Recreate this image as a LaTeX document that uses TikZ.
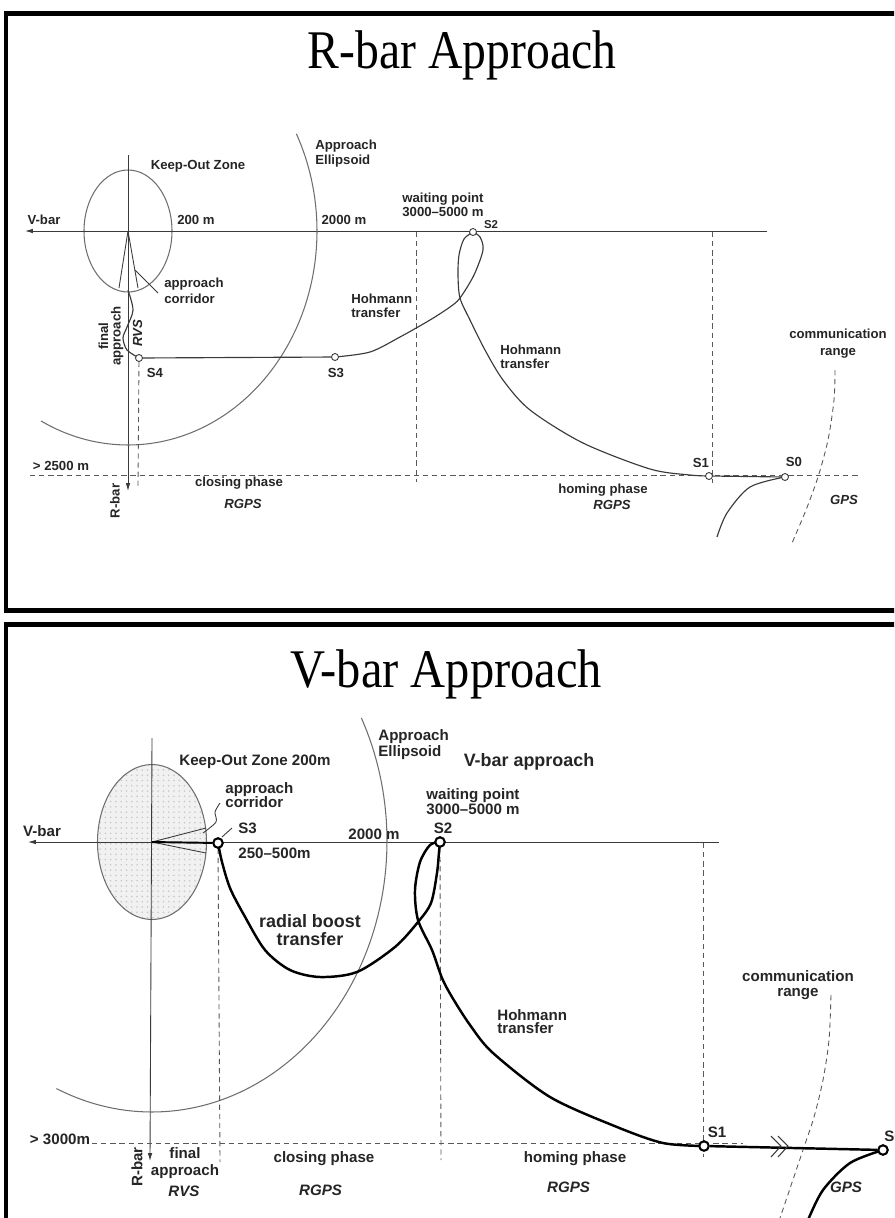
\documentclass[tikz,border=0pt]{standalone}
\usepackage{fontspec}
\usepackage{graphicx}
\setsansfont{Liberation Sans}
\newfontfamily\titlefont{Liberation Serif}
\usetikzlibrary{arrows.meta,patterns}
\definecolor{ink}{HTML}{252525}
\definecolor{lineg}{HTML}{3A3A3A}
\definecolor{ellg}{HTML}{6E6E6E}
\definecolor{kozfill}{HTML}{F1F1F1}
\pgfdeclarelayer{bg}
\pgfsetlayers{bg,main}
\begin{document}
\begin{tikzpicture}[x=0.02cm,y=-0.02cm,
  frame/.style={draw=black,line width=2.3pt},
  axisline/.style={draw=lineg,line width=0.5pt},
  axisarrow/.style={axisline,-{Latex[length=4.5pt,width=2.6pt]}},
  ellipsoid/.style={draw=ellg,line width=0.6pt},
  guide/.style={draw=lineg!85,line width=0.5pt,dash pattern=on 3pt off 2.2pt},
  trajA/.style={draw=lineg,line width=0.65pt},
  trajB/.style={draw=black,line width=1.4pt},
  ptA/.style={circle,draw=lineg,fill=white,line width=0.5pt,minimum size=0.14cm,inner sep=0},
  ptB/.style={circle,draw=black,fill=white,line width=1.2pt,minimum size=0.19cm,inner sep=0},
  lblA/.style={font=\sffamily\bfseries\fontsize{7.5}{8.3}\selectfont,text=ink,inner sep=0},
  lblB/.style={font=\sffamily\bfseries\fontsize{8.6}{9.4}\selectfont,text=ink,inner sep=0},
  lblC/.style={font=\sffamily\bfseries\fontsize{10.2}{10}\selectfont,text=ink,inner sep=0},
  titletext/.style={font=\titlefont\fontsize{31}{31}\selectfont,anchor=base,inner sep=0}]
\useasboundingbox (0,0) rectangle (894,1218);
\clip (0,0) rectangle (894,1218);

% ---------------- R-bar panel: stations and labels ----------------
\node[titletext] (titleR) at (462,68) {\scalebox{0.875}[1]{R-bar Approach}};
\node[ptA] (S4) at (139,358) {};
\node[ptA] (S3) at (335,357) {};
\node[ptA] (S2) at (473,232) {};
\node[ptA] (S1) at (709,476) {};
\node[ptA] (S0) at (785,477) {};

\node[lblA] (kozA) at (198,166) {Keep-Out Zone};
\node[lblA] (vbarA) at (44,220) {V-bar};
\node[lblA] (d200A) at (196,220) {200 m};
\node[lblA,align=left,anchor=west] (aeA) at (315,153.5) {Approach\\[-0.2pt]Ellipsoid};
\node[lblA] (d2000A) at (344,220) {2000 m};
\node[lblA,align=left,anchor=west] (wpA) at (402,205) {waiting point\\[-0.4pt]3000--5000 m};
\node[lblA,font=\sffamily\bfseries\fontsize{6.5}{7}\selectfont] (s2A) at (491,225) {S2};
\node[lblA,align=left,anchor=west] (acA) at (164,291) {approach\\[0.6pt]corridor};
\node[lblA,align=left,anchor=west] (htA) at (351,306) {Hohmann\\[-0.4pt]transfer};
\node[lblA,align=center,rotate=90] (faA) at (111,336) {final\\[-1.2pt]approach};
\node[lblA,rotate=90,font=\sffamily\bfseries\itshape\fontsize{7.5}{8.3}\selectfont] (rvsA) at (137.5,333) {RVS};
\node[lblA] (s4A) at (155,373) {S4};
\node[lblA] (s3A) at (336,373) {S3};
\node[lblA,align=left,anchor=west] (ht2A) at (500,356.5) {Hohmann\\[-0.4pt]transfer};
\node[lblA,align=center] (crA) at (838,344) {communication\\[1.5pt]range};
\node[lblA] (s1A) at (701,463) {S1};
\node[lblA] (s0A) at (794,462) {S0};
\node[lblA] (d2500A) at (61,466) {> 2500 m};
\node[lblA] (clA) at (239,483) {closing phase};
\node[lblA,font=\sffamily\bfseries\itshape\fontsize{7.5}{8.3}\selectfont] (rgA) at (243,504) {RGPS};
\node[lblA] (hoA) at (603,490) {homing phase};
\node[lblA,font=\sffamily\bfseries\itshape\fontsize{7.5}{8.3}\selectfont] (rg2A) at (612,505) {RGPS};
\node[lblA,font=\sffamily\bfseries\itshape\fontsize{7.5}{8.3}\selectfont] (gpsA) at (844,500) {GPS};
\node[lblA,rotate=90] (rbarA) at (115,501) {R-bar};

% ---------------- V-bar panel: stations and labels ----------------
\node[titletext] (titleV) at (446,687) {\scalebox{0.89}[1]{V-bar Approach}};
\node[ptB] (B3) at (218,843) {};
\node[ptB] (B2) at (440,842) {};
\node[ptB] (B1) at (704,1146) {};
\node[ptB] (B0) at (883,1150) {};

\node[lblB] (kozB) at (255,762) {Keep-Out Zone 200m};
\node[lblB,align=left,anchor=west] (acB) at (225,795) {approach\\[-1.2pt]corridor};
\node[lblB] (vbarB) at (42,831) {V-bar};
\node[lblB] (s3B) at (247.5,828) {S3};
\node[lblB] (rngB) at (274.5,853) {250--500m};
\node[lblB] (d2000B) at (374,834) {2000 m};
\node[lblB,align=left,anchor=west] (aeB) at (378,744.5) {Approach\\[-0.6pt]Ellipsoid};
\node[lblC] (vaB) at (529,762) {V-bar approach};
\node[lblB,align=left,anchor=west] (wpB) at (426,801.5) {waiting point\\[-1.2pt]3000--5000 m};
\node[lblB] (s2B) at (443,828) {S2};
\node[lblC,align=center] (rbB) at (310,930) {radial boost\\transfer};
\node[lblB,align=left,anchor=west] (htB) at (497,1021.5) {Hohmann\\[-2pt]transfer};
\node[lblB,align=center] (crB) at (798,985) {communication\\[-1.2pt]range};
\node[lblB] (s1B) at (717,1132) {S1};
\node[lblB,anchor=west] (s0B) at (884,1136) {S0};
\node[lblB] (d3000B) at (60,1139) {> 3000m};
\node[lblB,rotate=90] (rbarB) at (137,1167) {R-bar};
\node[lblB,align=center] (faB) at (185,1163) {final\\[-0.2pt]approach};
\node[lblB,font=\sffamily\bfseries\itshape\fontsize{8.6}{9.4}\selectfont] (rvsB) at (184,1191) {RVS};
\node[lblB] (clB) at (324,1159) {closing phase};
\node[lblB,font=\sffamily\bfseries\itshape\fontsize{8.6}{9.4}\selectfont] (rgB) at (320.5,1190) {RGPS};
\node[lblB] (hoB) at (575,1159) {homing phase};
\node[lblB,font=\sffamily\bfseries\itshape\fontsize{8.6}{9.4}\selectfont] (rg2B) at (568.5,1187) {RGPS};
\node[lblB,font=\sffamily\bfseries\itshape\fontsize{8.6}{9.4}\selectfont] (gpsB) at (846,1187) {GPS};

\begin{pgfonlayer}{bg}
\clip (0,0) rectangle (894,1218);
% panel frames (right and lower sides run off the page)
\draw[frame] (6,13.5) rectangle (920,610.5);
\draw[frame] (6,624.5) rectangle (920,1250);

% ---------- R-bar panel drawing ----------
\coordinate (TA) at (128,231);
\draw[ellipsoid] (TA) ellipse[x radius=44,y radius=61];
\draw[axisarrow] (767,231) -- (25,231);
\draw[axisarrow] (128,155) -- (128,491);
\draw[ellipsoid] plot[domain=-27:117.4,samples=90] ({128+189*cos(\x)},{231+214*sin(\x)});
% approach corridor
\draw[axisline] (TA) -- (119,288);
\draw[axisline] (TA) -- (138,288);
\draw[axisline] (158,293) -- (135,270);
% phase boundaries
\draw[guide] (30,475) -- (858,475);
\draw[guide] (S4) -- (138,488);
\draw[guide] (416,232) -- (416,482);
\draw[guide] (712,232) -- (712,483);
\draw[guide] plot[smooth] coordinates {(835,370) (834,400) (828,440) (818,477) (806,510) (792,543)};
% trajectory
\draw[trajA] plot[smooth] coordinates {(128,290) (133,310) (127,327) (123,338) (127,350) (S4.center)};
\draw[trajA] (S4) -- (S3);
\draw[trajA] plot[smooth] coordinates {(S3.center) (370,352) (400,337) (430,320) (450,307) (460,298) (474,275) (483,250) (480,237) (S2.center)};
\draw[trajA] plot[smooth] coordinates {(S2.center) (464,239) (459,255) (458,275) (460,298) (470,320) (485,350) (503,380) (530,410) (583,443) (650,469) (690,475) (S1.center)};
\draw[trajA] (S1) -- (S0);
\draw[trajA] plot[smooth] coordinates {(S0.center) (750,487) (727,513) (717,537)};

% ---------- V-bar panel drawing ----------
\coordinate (TB) at (152,842);
\fill[kozfill] (TB) ellipse[x radius=54.5,y radius=77.5];
\fill[pattern=dots,pattern color=black!22] (TB) ellipse[x radius=54.5,y radius=77.5];
\draw[ellipsoid] (TB) ellipse[x radius=54.5,y radius=77.5];
\draw[axisarrow] (719,842) -- (28,842);
\draw[axisarrow] (152,738) -- (150,1161);
\draw[ellipsoid] plot[domain=-27:114,samples=90] ({152+235*cos(\x)},{841+271*sin(\x)});
% approach corridor
\draw[axisline] (TB) -- (206,828);
\draw[axisline] (TB) -- (206,853);
\draw[axisline] plot[smooth] coordinates {(220,803) (215,812) (216,822) (203,833)};
\draw[axisline] (222,837) -- (232,828);
\draw[trajB,line width=1.1pt] (TB) -- (B3);
% phase boundaries
\draw[guide] (92,1143) -- (743,1143);
\draw[guide] (B3) -- (220,1162);
\draw[guide] (B2) -- (441,1160);
\draw[guide] (703,843) -- (703,1157);
\draw[guide] plot[smooth] coordinates {(831,995) (829,1040) (823,1080) (814,1117) (803,1150) (780,1218)};
% trajectory
\draw[trajB] plot[smooth] coordinates {(B3.center) (222,862) (230,888) (244,915) (265,950) (290,970) (320,977) (357,972) (395,947) (418,922) (431,903) (437,873) (439,852) (B2.center)};
\draw[trajB] plot[smooth] coordinates {(B2.center) (430,845) (420,862) (415,890) (418,920) (432,950) (442,978) (452,997) (470,1025) (493,1053) (550,1097) (617,1127) (663,1143) (B1.center)};
\draw[trajB] (B1) -- (B0);
\draw[trajB] plot[smooth] coordinates {(B0.center) (850,1163) (823,1190) (808,1220)};
% break marks on the drift line
\draw[axisline,line width=0.6pt] (771,1136) -- (781,1146) -- (771,1157);
\draw[axisline,line width=0.6pt] (778,1136) -- (788,1146) -- (778,1157);
\end{pgfonlayer}
\end{tikzpicture}
\end{document}
